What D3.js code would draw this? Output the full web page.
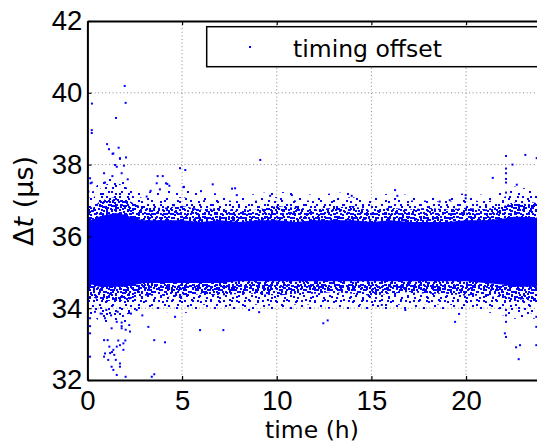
<!DOCTYPE html>
<html><head><meta charset="utf-8">
<script src="https://cdn.jsdelivr.net/npm/d3@7"></script>
<style>body{margin:0;background:#fff}svg{display:block}</style>
</head><body><svg id="c" width="537" height="446"></svg>
<script>
// ---- data ----
const hours      = [0, 0.3, 0.6, 1, 1.5, 2, 2.5, 3, 4, 5, 6, 7, 8, 9, 10, 11, 12, 13, 14, 15, 16, 17, 18, 19, 20, 21, 22, 22.5, 23, 23.5, 24];
const coreHigh   = [36.5,36.45,36.55,36.6,36.65,36.6,36.5,36.45,36.45,36.45,36.4,36.45,36.4,36.45,36.45,36.4,36.45,36.45,36.45,36.4,36.45,36.4,36.4,36.4,36.45,36.45,36.5,36.55,36.55,36.5,36.55];
const coreLow    = [34.65,34.65,34.6,34.6,34.6,34.6,34.65,34.7,34.7,34.7,34.7,34.7,34.75,34.75,34.75,34.75,34.75,34.75,34.75,34.75,34.75,34.75,34.75,34.75,34.75,34.7,34.65,34.6,34.6,34.6,34.6];
const denseHigh  = [36.85,36.8,36.95,37.05,37.1,37.05,36.9,36.8,36.8,36.85,36.75,36.8,36.7,36.75,36.85,36.8,36.75,36.8,36.85,36.7,36.8,36.75,36.8,36.75,36.8,36.75,36.85,36.95,36.9,36.95,36.9];
const denseLow   = [34.3,34.3,34.25,34.2,34.2,34.2,34.3,34.35,34.35,34.3,34.4,34.35,34.4,34.4,34.35,34.4,34.4,34.45,34.4,34.35,34.4,34.45,34.4,34.4,34.35,34.35,34.3,34.2,34.25,34.2,34.25];
const sparseHigh = [37.1,37.05,37.3,37.45,37.5,37.4,37.15,37.05,37.05,37.1,37.0,37.05,36.95,37.0,37.1,37.0,37.0,37.05,37.1,36.95,37.05,37.0,37.0,36.95,37.05,36.95,37.1,37.2,37.15,37.15,37.1];
const sparseLow  = [34.0,33.95,33.85,33.8,33.8,33.8,33.95,34.05,34.05,34.0,34.1,34.05,34.05,34.1,34.05,34.1,34.1,34.15,34.1,34.05,34.05,34.15,34.1,34.1,34.05,34.05,33.95,33.85,33.9,33.85,33.9];
const faintHigh  = [37.3,37.25,37.5,37.65,37.7,37.6,37.35,37.25,37.25,37.3,37.2,37.2,37.1,37.2,37.25,37.2,37.15,37.2,37.25,37.1,37.2,37.15,37.15,37.15,37.2,37.15,37.3,37.4,37.35,37.3,37.3];
const faintLow   = [33.85,33.8,33.65,33.6,33.6,33.6,33.8,33.9,33.9,33.85,33.95,33.9,33.9,33.95,33.9,33.95,33.95,34.0,33.95,33.9,33.9,34.0,33.95,33.95,33.9,33.9,33.8,33.7,33.75,33.7,33.75];

const outlierTime  = [0.24,1.97,2.02,1.51,0.23,0.23,0.00,1.04,1.14,1.65,1.37,1.72,2.04,0.88,3.71,3.98,4.89,5.17,5.07,4.22,3.83,3.34,3.13,0.14,0.23,0.05,3.66,4.15,4.33,6.62,7.64,6.00,5.10,9.13,7.80,7.89,10.80,13.96,9.65,22.11,23.13,22.45,22.11,22.11,22.11,22.11,22.11,21.41,22.68,16.25,16.37,19.98,19.98,23.73,18.61,19.14,
  1.33,1.72,1.46,1.55,1.93,1.32,1.81,2.13,0.93,0.17,
  0.14,0.14,0.14,0.14,0.93,0.88,1.07,1.20,1.30,1.42,1.28,1.37,1.55,2.02,3.40,3.53,1.81,1.81,2.02,2.00,1.63,1.55,1.37,1.50,1.72,1.72,3.22,3.53,4.10,4.63,5.95,7.18,0.93,1.10,12.46,12.69,9.07,8.54,19.42,19.63,22.11,22.11,22.11,22.05,22.11,22.64,22.85,22.78,23.71,23.71,23.71,16.79,15.55,
  1.28,1.55,1.81,2.21,2.25,1.16,1.72,1.90,1.90,0.88,
  0.7,1.0,1.25,1.6,2.3,2.6,2.9,0.4];
const outlierValue = [39.70,40.19,39.72,39.30,38.96,38.88,38.70,38.57,38.43,38.47,38.31,38.18,38.20,37.76,37.68,37.68,37.90,37.85,37.37,37.46,37.31,37.27,37.11,37.62,37.50,37.25,37.48,37.48,37.41,37.45,37.33,37.26,37.38,38.13,37.34,37.15,37.15,37.13,37.13,38.24,38.27,38.00,37.89,37.76,37.60,37.50,37.22,37.63,37.44,37.29,37.13,37.15,37.06,38.18,36.97,37.01,
  38.30,38.16,37.99,37.94,37.97,37.68,37.76,37.59,37.50,37.48,
  33.72,33.50,33.30,32.65,33.72,33.11,33.11,32.75,32.78,32.70,32.37,32.28,32.14,32.09,32.09,32.16,33.60,33.50,33.40,33.10,33.10,32.93,32.84,32.56,32.37,32.46,33.48,33.11,33.05,33.76,33.39,33.39,32.74,32.56,33.58,33.66,33.89,33.95,33.62,33.84,33.95,33.80,33.62,33.30,33.20,32.91,32.97,32.58,33.48,33.76,32.97,33.95,34.09,
  33.44,33.62,33.44,33.53,33.35,32.93,32.97,33.02,32.84,32.65,
  33.85,33.95,33.80,33.90,33.85,33.95,33.80,33.90];

const xTicks = [0, 5, 10, 15, 20];
const yTicks = [32, 34, 36, 38, 40, 42];
const xDomain = [0, 24];
const yDomain = [32, 42];
const legendLabel = "timing offset";
const xTitle = "time (h)";

// ---- layout ----
const L = 87.4, R = 541.8, T = 21, B = 380;
const BLUE = "#0000ff";
const svg = d3.select("#c");
const x = d3.scaleLinear(xDomain, [L, R]);
const y = d3.scaleLinear(yDomain, [B, T]);

const defs = svg.append("defs");
defs.append("clipPath").attr("id", "plot").append("rect")
  .attr("x", L).attr("y", T).attr("width", R - L).attr("height", B - T);

// speckle textures (style only)
function pattern(id, size, cells) {
  const p = defs.append("pattern").attr("id", id).attr("patternUnits", "userSpaceOnUse")
    .attr("width", size).attr("height", size);
  p.selectAll("rect").data(cells).join("rect")
    .attr("x", d => d[0]).attr("y", d => d[1]).attr("width", 2).attr("height", 2).attr("fill", BLUE);
}
pattern("pA", 12, [[0,0],[5,1],[9,3],[2,4],[7,6],[0,8],[4,9],[10,9],[6,10],[3,1]]);
pattern("pB", 17, [[1,2],[8,0],[13,4],[4,7],[10,9],[15,12],[2,13],[7,14],[12,15],[5,3],[14,0],[0,9],[9,5],[11,12]]);
pattern("pC", 13, [[2,1],[8,5],[4,9],[11,11],[10,1]]);
pattern("pD", 19, [[5,3],[14,8],[1,14],[10,16],[16,1],[8,11]]);

// grid
const grid = svg.append("g").attr("stroke", "#8a8a8a").attr("stroke-width", 1).attr("stroke-dasharray", "1,2.6");
grid.selectAll(".gx").data(xTicks.filter(d => d > xDomain[0])).join("line")
  .attr("x1", d => x(d)).attr("x2", d => x(d)).attr("y1", T).attr("y2", B);
grid.selectAll(".gy").data(yTicks.filter(d => d > yDomain[0] && d < yDomain[1])).join("line")
  .attr("y1", d => y(d)).attr("y2", d => y(d)).attr("x1", L).attr("x2", R);

// data
const band = hours.map((h, i) => ({h, cH: coreHigh[i], cL: coreLow[i], dH: denseHigh[i], dL: denseLow[i],
  sH: sparseHigh[i], sL: sparseLow[i], fH: faintHigh[i], fL: faintLow[i]}));
const gData = svg.append("g").attr("clip-path", "url(#plot)");
const area = (lo, hi) => d3.area().x(d => x(d.h)).y0(d => y(d[lo])).y1(d => y(d[hi])).curve(d3.curveLinear);
gData.append("path").datum(band).attr("d", area("fL", "fH")).attr("fill", "url(#pD)");
gData.append("path").datum(band).attr("d", area("sL", "sH")).attr("fill", "url(#pC)");
gData.append("path").datum(band).attr("d", area("sL", "sH")).attr("fill", "url(#pD)");
gData.append("path").datum(band).attr("d", area("dL", "dH")).attr("fill", "url(#pA)");
gData.append("path").datum(band).attr("d", area("dL", "dH")).attr("fill", "url(#pB)");
gData.append("path").datum(band).attr("d", area("cL", "cH")).attr("fill", BLUE);
gData.selectAll("rect.o").data(outlierTime.map((t, i) => [t, outlierValue[i]])).join("rect")
  .attr("class", "o").attr("x", d => x(d[0]) - 1).attr("y", d => y(d[1]) - 1)
  .attr("width", 2).attr("height", 2).attr("fill", BLUE);

// axes
const tickFont = "'Liberation Sans', Arial, sans-serif";
const xb = svg.append("g").attr("transform", `translate(0,${B})`)
  .call(d3.axisBottom(x).tickValues(xTicks).tickSize(-4).tickSizeOuter(0).tickPadding(10));
const xt = svg.append("g").attr("transform", `translate(0,${T})`)
  .call(d3.axisTop(x).tickValues(xTicks).tickSize(-4).tickSizeOuter(0).tickFormat(""));
const yl = svg.append("g").attr("transform", `translate(${L},0)`)
  .call(d3.axisLeft(y).tickValues(yTicks).tickSize(-4).tickSizeOuter(0).tickPadding(5));
[xb, xt, yl].forEach(g => {
  g.select(".domain").attr("stroke", "#000").attr("stroke-width", 2);
  g.selectAll(".tick line").attr("stroke", "#000").attr("stroke-width", 1.2);
  g.selectAll("text").attr("font-family", tickFont).attr("font-size", 27.5).attr("fill", "#000");
});

// legend
const lg = svg.append("g");
lg.append("rect").attr("x", 206.7).attr("y", 26.7).attr("width", 360).attr("height", 40)
  .attr("fill", "#fff").attr("stroke", "#000").attr("stroke-width", 1.5);
lg.append("rect").attr("x", 249).attr("y", 46).attr("width", 2).attr("height", 2).attr("fill", BLUE);
lg.append("text").attr("x", 293).attr("y", 57).text(legendLabel)
  .attr("font-family", "'DejaVu Sans', sans-serif").attr("font-size", 23.5);

// titles
svg.append("text").attr("x", 312).attr("y", 438).attr("text-anchor", "middle").text(xTitle)
  .attr("font-family", "'DejaVu Sans', sans-serif").attr("font-size", 23.5);
const yt = svg.append("text").attr("transform", "translate(33,201) rotate(-90)").attr("text-anchor", "middle")
  .attr("font-family", "'DejaVu Sans', sans-serif").attr("font-size", 27);
yt.append("tspan").text("Δ");
yt.append("tspan").attr("font-style", "italic").text("t");
yt.append("tspan").text(" (μs)");
</script></body></html>
